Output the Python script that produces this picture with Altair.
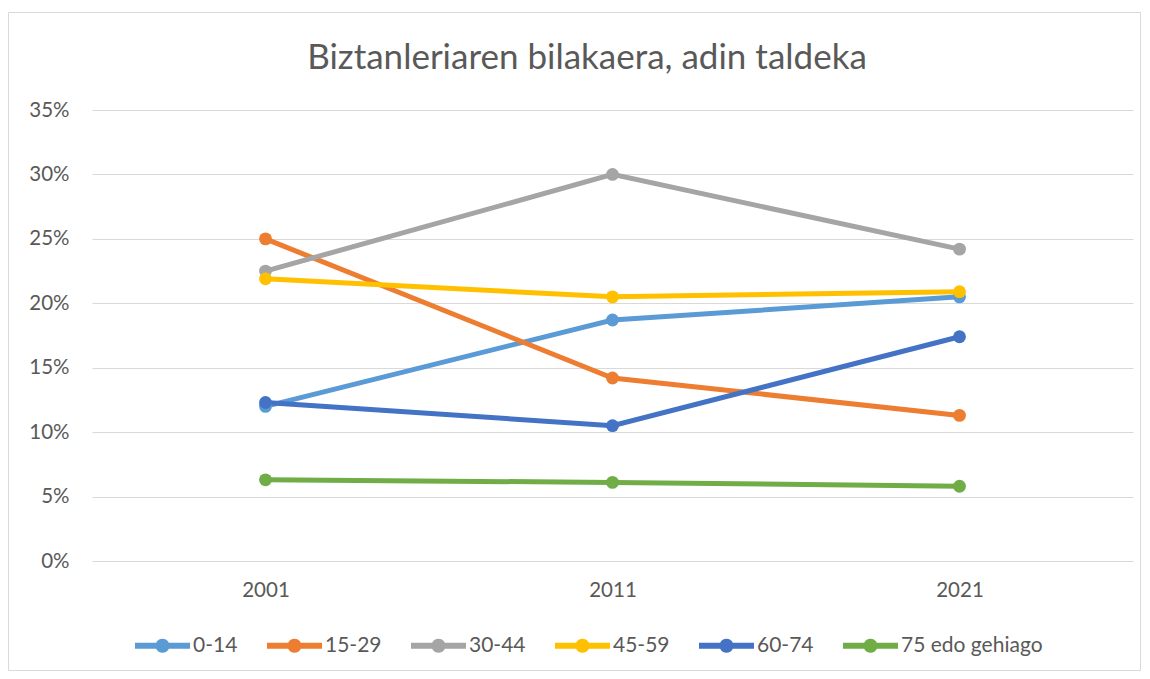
import altair as alt
import pandas as pd

years = ["2001", "2011", "2021"]
groups = ["0-14", "15-29", "30-44", "45-59", "60-74", "75 edo gehiago"]
colors = ["#5B9BD5", "#ED7D31", "#A5A5A5", "#FFC000", "#4472C4", "#70AD47"]

v_0_14 = [12.0, 18.7, 20.5]
v_15_29 = [25.0, 14.2, 11.3]
v_30_44 = [22.5, 30.0, 24.2]
v_45_59 = [21.9, 20.5, 20.9]
v_60_74 = [12.3, 10.5, 17.4]
v_75 = [6.3, 6.1, 5.8]

y_ticks = [0, 0.05, 0.10, 0.15, 0.20, 0.25, 0.30, 0.35]
title_text = "Biztanleriaren bilakaera, adin taldeka"

series = [v_0_14, v_15_29, v_30_44, v_45_59, v_60_74, v_75]
rows = []
for gi, (g, vals) in enumerate(zip(groups, series)):
    for y, v in zip(years, vals):
        rows.append({"urtea": y, "taldea": g, "balioa": v / 100.0, "ord": gi})
df = pd.DataFrame(rows)

FONT = "Lato"
GREY = "#595959"

legend_path = ("M-1,-0.109L-0.2305,-0.109A0.255,0.255,0,0,1,0.2305,-0.109L1,-0.109"
               "L1,0.109L0.2305,0.109A0.255,0.255,0,0,1,-0.2305,0.109L-1,0.109Z")

x_enc = alt.X("urtea:O", title=None,
              scale=alt.Scale(type="point", padding=0.5),
              axis=alt.Axis(labelAngle=0, domain=False, ticks=False, grid=False,
                            labelFont=FONT, labelFontSize=20.5, labelColor=GREY,
                            labelPadding=19))
y_enc = alt.Y("balioa:Q", title=None,
              scale=alt.Scale(domain=[0, 0.35], nice=False),
              axis=alt.Axis(values=y_ticks, format=".0%", domain=False, ticks=False,
                            gridColor="#d9d9d9", gridWidth=1,
                            labelFont=FONT, labelFontSize=20.5, labelColor=GREY,
                            labelPadding=23))
color_scale = alt.Scale(domain=groups, range=colors)
legend = alt.Legend(title=None, orient="none", direction="horizontal",
                    legendX=43, legendY=508,
                    symbolType=legend_path, symbolSize=3025,
                    symbolStrokeWidth=0, symbolOpacity=1,
                    labelFont=FONT, labelFontSize=21, labelColor=GREY,
                    labelOffset=3, columnPadding=29)

lines = alt.Chart(df).mark_line(strokeWidth=5).encode(
    x=x_enc, y=y_enc,
    color=alt.Color("taldea:N", scale=color_scale, legend=legend),
    order="ord:Q",
)

points = alt.Chart(df).mark_circle(size=165, opacity=1).encode(
    x=x_enc, y=y_enc,
    color=alt.Color("taldea:N", scale=color_scale, legend=legend),
)

border = alt.Chart(pd.DataFrame({"b": [1]})).mark_rect(
    fillOpacity=0, stroke="#d9d9d9", strokeWidth=1
).encode(x=alt.value(-83.5), x2=alt.value(1048.5), y=alt.value(-97.5), y2=alt.value(560.5))

title = alt.Chart(pd.DataFrame({"t": [title_text]})).mark_text(
    font=FONT, fontSize=35, color=GREY, align="center", baseline="middle"
).encode(text="t:N", x=alt.value(495), y=alt.value(-52))

chart = alt.layer(border, title, lines, points).properties(
    width=1041, height=451,
    autosize=alt.AutoSizeParams(type="none"),
    padding={"left": 84, "top": 102, "right": 9, "bottom": 110},
).configure_view(stroke=None)

chart.save("out.html", embed_options={"renderer": "svg", "actions": False})
